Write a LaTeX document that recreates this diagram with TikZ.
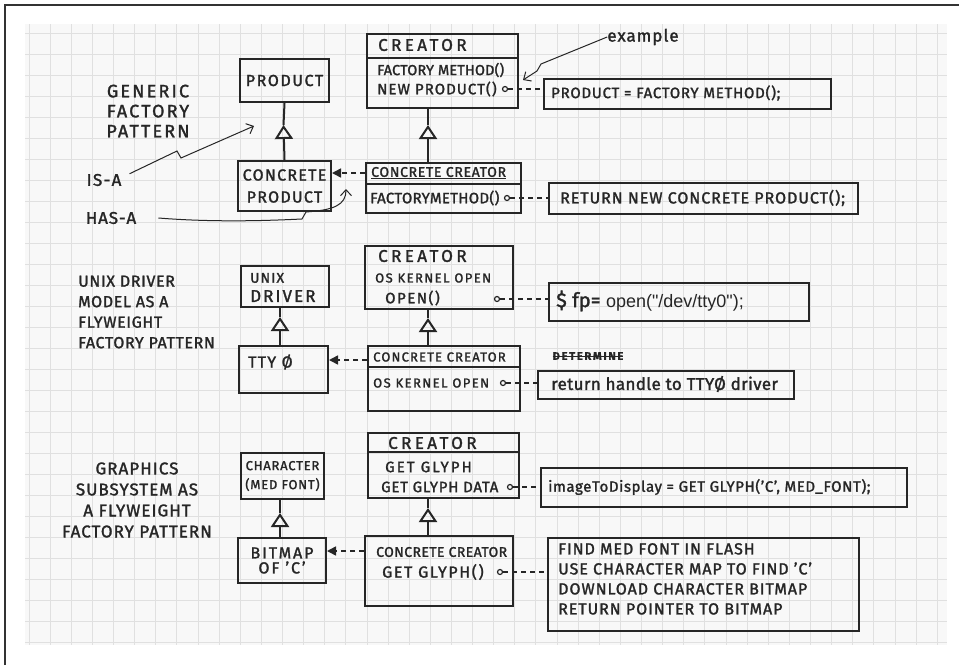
\documentclass[tikz,border=0pt]{standalone}
\usepackage{fontspec}
\setmainfont{Fira Sans}[FakeBold=1.6]
\newfontfamily\typed{Liberation Sans}
\usetikzlibrary{arrows.meta}
\newcommand\tracked[1]{\addfontfeature{LetterSpace=#1}}
\newcommand\fs[2]{\fontsize{#1}{#2}\selectfont}
\definecolor{ink}{HTML}{262626}
\definecolor{paper}{HTML}{F8F8F8}
\definecolor{gridc}{HTML}{E0E0E0}
\definecolor{edge}{HTML}{333333}
\tikzset{
  pen/.style={draw=ink, line width=2pt},
  cls/.style={pen, rectangle, inner sep=0pt, anchor=north west, align=center, text=ink,
    font=\fs{16}{20}\tracked{8}},
  note/.style={pen, rectangle, inner sep=0pt, anchor=north west},
  hand/.style={text=ink, inner sep=0pt, anchor=west, font=\fs{15}{18}\tracked{7}},
  title/.style={hand, font=\fs{17}{20}\tracked{20}},
  small/.style={hand, font=\fs{13}{16}\tracked{10}},
  side/.style={text=ink, inner sep=0pt, align=center, font=\fs{17}{21}\tracked{6}},
  isa/.style={pen, -{Triangle[open, length=14pt, width=18pt]}},
  uses/.style={draw=ink, line width=1.6pt, dash pattern=on 5pt off 4pt,
    -{Triangle[length=9pt, width=9pt]}},
  link/.style={draw=ink, line width=1.6pt, dash pattern=on 5pt off 4pt},
  dot/.style={circle, draw=ink, line width=1.2pt, minimum size=5pt, inner sep=0pt},
  hint/.style={draw=ink, line width=1pt, -{Straight Barb[length=6pt, width=11pt]}}
}
\begin{document}
\begin{tikzpicture}[x=1pt,y=-1pt]
  \useasboundingbox (0,0) rectangle (959,665);
  % paper
  \fill[paper] (25,24) rectangle (947,645);
  \foreach \i in {0,...,43}
    \draw[gridc, line width=0.8pt] ({29+21.12*\i},24) -- ({29+21.12*\i},645);
  \foreach \j in {0,...,29}
    \draw[gridc, line width=0.8pt] (25,{33+21.03*\j}) -- (947,{33+21.03*\j});
  \draw[edge, line width=1.5pt] (5,665) -- (5,5) -- (959,5);

  % generic factory pattern
  \node[side, font=\fs{18}{20}\tracked{12}] (gen) at (148,111) {GENERIC\\FACTORY\\PATTERN};
  \node[hand, anchor=center, font=\fs{17}{20}\tracked{8}] (isa) at (104,180) {IS-A};
  \node[hand, anchor=center, font=\fs{17}{20}\tracked{5}] (hasa) at (111,218) {HAS-A};
  \node[cls, minimum width=89, minimum height=43, font=\fs{16}{20}\tracked{10}] (prod) at (239,58) {PRODUCT};
  \node[cls, minimum width=93, minimum height=50, font=\fs{16}{22}\tracked{8}] (cprod) at (237,160) {CONCRETE\\PRODUCT};
  \node[cls, minimum width=151, minimum height=74] (crA) at (366,33) {};
  \draw[pen] (crA.west |- 0,58) -- (crA.east |- 0,58);
  \node[title] (crAt) at (378,45) {CREATOR};
  \node[hand, font=\fs{14.5}{18}\tracked{1}] (crAm) at (377,70) {FACTORY METHOD()};
  \node[hand] (crAn) at (377,89) {NEW PRODUCT()};
  \node[dot] (oA) at (505,89) {};
  \node[cls, minimum width=155, minimum height=50] (ccA) at (365,162) {};
  \draw[pen] (ccA.west |- 0,184) -- (ccA.east |- 0,184);
  \node[hand, font=\fs{14}{16}\tracked{5}] (ccAt) at (371,173) {\underline{CONCRETE CREATOR}};
  \node[hand, font=\fs{15}{18}\tracked{2}] (ccAm) at (370,198) {FACTORYMETHOD()};
  \node[dot] (oB) at (507,198) {};
  \node[note, minimum width=287, minimum height=30] (nA) at (543,78) {};
  \node[hand, font=\fs{15}{18}\tracked{5}] (nAt) at (551,93) {PRODUCT = FACTORY METHOD();};
  \node[note, minimum width=309, minimum height=31] (nB) at (548,182) {};
  \node[hand, font=\fs{16}{18}\tracked{6}] (nBt) at (560,198) {RETURN NEW CONCRETE PRODUCT();};
  \node[hand, anchor=center, font=\fs{17}{20}\tracked{6}] (ex) at (643,37) {example};
  \coordinate (tA) at (283.5,125);
  \coordinate (tB) at (428,125);
  \draw[pen] (prod.south) -- (tA);
  \draw[isa] (cprod.north) -- (tA);
  \draw[pen] (crA.south -| tB) -- (tB);
  \draw[isa] (ccA.north -| tB) -- (tB);
  \draw[uses] (ccA.west |- 0,173) -- (cprod.east |- 0,173);
  \draw[link] (oA.east) -- (nA.west |- oA.east);
  \draw[link] (oB.east) -- (nB.west |- oB.east);
  \coordinate (isaTip) at (254,126);
  \coordinate (hasTip) at (346,189);
  \coordinate (exTip) at (523,80);
  \draw[hint] ([xshift=8pt]isa.north east) -- (177,151) -- (181,158) -- (isaTip);
  \draw[hint] ([xshift=22pt]hasa.east) .. controls (220,223) and (280,220) .. (302,219)
    -- (306,212) .. controls (334,210) and (346,205) .. (hasTip);
  \draw[hint] (ex.west) -- (541,64) -- (537,71) -- (exTip);

  % unix driver
  \node[side, anchor=west, align=left, font=\fs{16}{20.5}\tracked{4}] (unixl) at (78,312) {UNIX DRIVER\\MODEL AS A\\FLYWEIGHT\\FACTORY PATTERN};
  \node[cls, minimum width=88, minimum height=41] (udrv) at (240,265) {};
  \node[hand, font=\fs{14}{16}\tracked{8}] (udrvt) at (250,278) {UNIX};
  \node[hand, font=\fs{17}{20}\tracked{12}] (udrvd) at (250,296) {DRIVER};
  \node[cls, minimum width=89, minimum height=47] (tty) at (238,345) {};
  \node[hand, font=\fs{16}{20}\tracked{8}] (ttyt) at (248,362) {TTY Ø};
  \node[cls, minimum width=148, minimum height=63] (crB) at (364,245) {};
  \node[title] (crBt) at (378,256) {CREATOR};
  \node[small, font=\fs{13}{16}\tracked{11}] (crBm) at (375,278) {OS KERNEL OPEN};
  \node[hand, font=\fs{15}{18}\tracked{10}] (crBn) at (385,298) {OPEN()};
  \node[dot] (oC) at (497,299) {};
  \node[cls, minimum width=152, minimum height=65] (ccB) at (367,345) {};
  \draw[pen] (ccB.west |- 0,367) -- (ccB.east |- 0,367);
  \node[small, font=\fs{13}{16}\tracked{9}] (ccBt) at (373,357) {CONCRETE CREATOR};
  \node[small, font=\fs{13}{16}\tracked{11}] (ccBm) at (373,383) {OS KERNEL OPEN};
  \node[dot] (oD) at (503,383) {};
  \node[note, minimum width=260, minimum height=38] (nC) at (548,282) {};
  \node[hand, font=\fs{20}{22}] (nCt) at (556,301) {\$ fp= {\typed\fs{18}{20}open("/dev/tty0");}};
  \node[hand, anchor=center, font=\fs{11}{12}\bfseries\tracked{16}] (det) at (588,356) {DETERMINE};
  \draw[ink, line width=1pt] (det.west) -- (det.east);
  \node[note, minimum width=256, minimum height=28] (nD) at (537,370) {};
  \node[hand, font=\fs{17}{20}\tracked{2}] (nDt) at (551,384) {return handle to TTYØ driver};
  \coordinate (tC) at (280,317);
  \coordinate (tD) at (428,318);
  \draw[pen] (udrv.south -| tC) -- (tC);
  \draw[isa] (tty.north -| tC) -- (tC);
  \draw[pen] (crB.south -| tD) -- (tD);
  \draw[isa] (ccB.north -| tD) -- (tD);
  \draw[uses] (ccB.west |- 0,360) -- (tty.east |- 0,360);
  \draw[link] (oC.east) -- (nC.west |- oC.east);
  \draw[link] (oD.east) -- (nD.west |- oD.east);

  % graphics subsystem
  \node[side] (gfx) at (137,500) {GRAPHICS\\SUBSYSTEM AS\\A FLYWEIGHT\\FACTORY PATTERN};
  \node[cls, minimum width=83, minimum height=46, font=\fs{13}{19}\tracked{6}] (chr) at (240,452) {CHARACTER\\(MED FONT)};
  \node[cls, minimum width=88, minimum height=45, font=\fs{16}{15}\tracked{12}] (bmp) at (237,537) {BITMAP\\OF ’C’};
  \node[cls, minimum width=151, minimum height=65] (crC) at (367,432) {};
  \draw[pen] (crC.west |- 0,452) -- (crC.east |- 0,452);
  \node[title] (crCt) at (388,443) {CREATOR};
  \node[hand, font=\fs{15}{18}\tracked{14}] (crCm) at (385,467) {GET GLYPH};
  \node[hand, font=\fs{15}{18}\tracked{5}] (crCn) at (381,487) {GET GLYPH DATA};
  \node[dot] (oE) at (510,487) {};
  \node[cls, minimum width=148, minimum height=70] (ccC) at (364,535) {};
  \node[hand, font=\fs{14}{16}\tracked{3}] (ccCt) at (376,552) {CONCRETE CREATOR};
  \node[hand, font=\fs{16}{18}\tracked{10}] (ccCm) at (382,572) {GET GLYPH()};
  \node[dot] (oF) at (500,572) {};
  \node[note, minimum width=366, minimum height=39] (nE) at (540,467) {};
  \node[hand, font=\fs{15}{18}\tracked{4}] (nEt) at (548,487) {imageToDisplay = GET GLYPH(’C’, MED\_FONT);};
  \node[note, minimum width=311, minimum height=93] (nF) at (547,537) {};
  \node[hand, align=left, anchor=north west, font=\fs{16}{20}\tracked{6}] (nFt) at (558,543)
    {FIND MED FONT IN FLASH\\USE CHARACTER MAP TO FIND ’C’\\DOWNLOAD CHARACTER BITMAP\\RETURN POINTER TO BITMAP};
  \coordinate (tE) at (280,513);
  \coordinate (tF) at (428,508);
  \draw[pen] (chr.south -| tE) -- (tE);
  \draw[isa] (bmp.north -| tE) -- (tE);
  \draw[pen] (crC.south -| tF) -- (tF);
  \draw[isa] (ccC.north -| tF) -- (tF);
  \draw[uses] (ccC.west |- 0,551) -- (bmp.east |- 0,551);
  \draw[link] (oE.east) -- (nE.west |- oE.east);
  \draw[link] (oF.east) -- (nF.west |- oF.east);
\end{tikzpicture}
\end{document}
